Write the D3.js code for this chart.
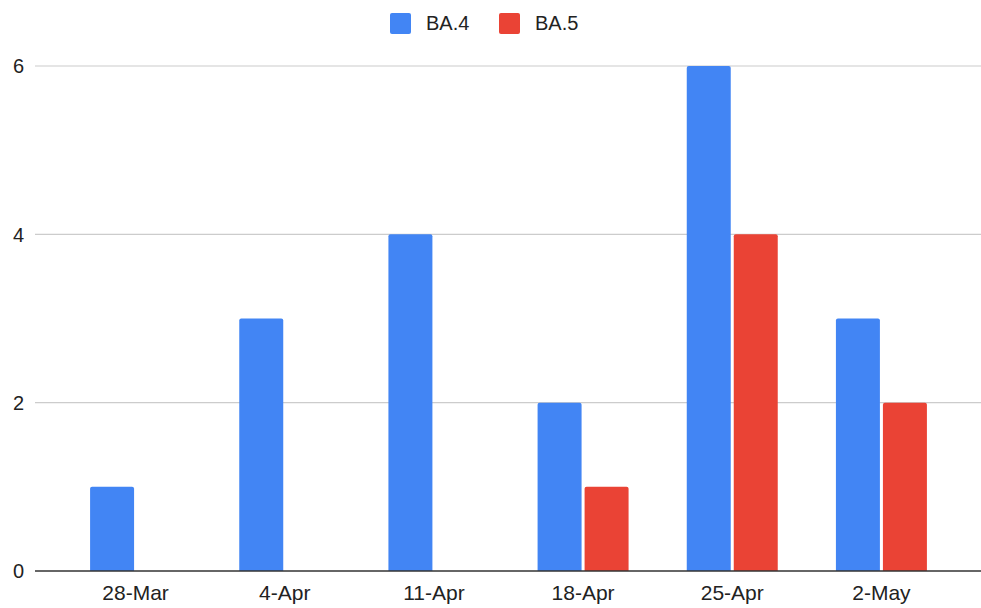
<!DOCTYPE html>
<html>
<head>
<meta charset="utf-8">
<script src="https://cdn.jsdelivr.net/npm/d3@7"></script>
<style>
  html, body { margin: 0; padding: 0; background: #fff; }
  svg { display: block; font-family: "Liberation Sans", Arial, sans-serif; }
</style>
</head>
<body>
<svg id="chart" width="981" height="608"></svg>
<script>
// Weekly counts of BA.4 and BA.5 cases
const weeks = ["28-Mar", "4-Apr", "11-Apr", "18-Apr", "25-Apr", "2-May"];
const seriesNames = ["BA.4", "BA.5"];
const ba4 = [1, 3, 4, 2, 6, 3];
const ba5 = [0, 0, 0, 1, 4, 2];
const yTicks = [0, 2, 4, 6];
const colors = ["#4285F4", "#EA4335"];

const values = { "BA.4": ba4, "BA.5": ba5 };
const rows = weeks.map((w, i) => ({ week: w, vals: seriesNames.map(s => ({ key: s, value: values[s][i] })) }));

const svg = d3.select("#chart");
const W = 981;

const x0 = d3.scaleBand().domain(weeks).range([61, 956]).paddingInner(0.39).paddingOuter(0.195);
const x1 = d3.scaleBand().domain(seriesNames).range([0, x0.bandwidth()]).paddingInner(0.064);
const y = d3.scaleLinear().domain([0, 6]).range([571, 66]);
const color = d3.scaleOrdinal().domain(seriesNames).range(colors);

// Horizontal gridlines
svg.append("g").selectAll("line").data(yTicks.filter(t => t !== 0)).join("line")
  .attr("x1", 35).attr("x2", W).attr("y1", d => y(d)).attr("y2", d => y(d))
  .attr("stroke", "#cccccc").attr("stroke-width", 1.2);

// Y tick labels
svg.append("g").selectAll("text").data(yTicks).join("text")
  .attr("x", 24).attr("y", d => y(d)).attr("dy", "0.36em")
  .attr("text-anchor", "end").attr("font-size", 20).attr("fill", "#222")
  .text(d => d);

// Bars with slightly rounded top corners
function barPath(x, yTop, w, yBase) {
  const r = Math.min(2, (yBase - yTop) / 2);
  return `M${x},${yBase}V${yTop + r}Q${x},${yTop} ${x + r},${yTop}H${x + w - r}Q${x + w},${yTop} ${x + w},${yTop + r}V${yBase}Z`;
}

svg.append("g").selectAll("g").data(rows).join("g")
  .attr("transform", d => `translate(${x0(d.week)},0)`)
  .selectAll("path").data(d => d.vals.filter(v => v.value > 0)).join("path")
  .attr("d", d => barPath(x1(d.key), y(d.value), x1.bandwidth(), y(0)))
  .attr("fill", d => color(d.key));

// Baseline
svg.append("line").attr("x1", 35).attr("x2", W).attr("y1", y(0)).attr("y2", y(0))
  .attr("stroke", "#333").attr("stroke-width", 1.3);

// X axis labels
svg.append("g").selectAll("text").data(weeks).join("text")
  .attr("x", d => x0(d) + x0.bandwidth() / 2).attr("y", 600)
  .attr("text-anchor", "middle").attr("font-size", 21).attr("fill", "#222")
  .text(d => d);

// Legend
const legendX = [390, 499];
const legend = svg.append("g").selectAll("g").data(seriesNames).join("g")
  .attr("transform", (d, i) => `translate(${legendX[i]},13)`);
legend.append("rect").attr("width", 21).attr("height", 21).attr("rx", 2)
  .attr("fill", d => color(d));
legend.append("text").attr("x", 36).attr("y", 17).attr("font-size", 20).attr("fill", "#222")
  .text(d => d);
</script>
</body>
</html>
